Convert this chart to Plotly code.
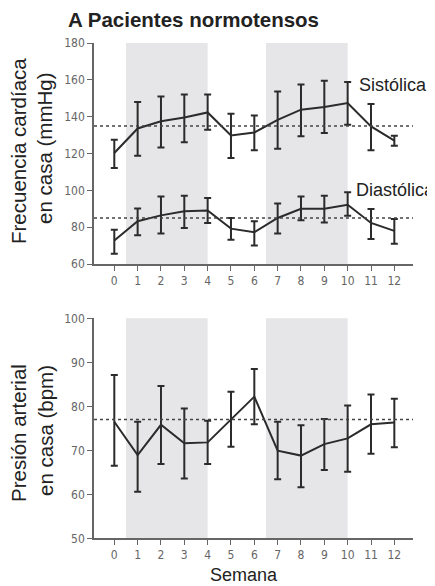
import plotly.graph_objects as go

weeks = list(range(13))
week_labels = [str(w) for w in weeks]

sys_mean = [120.3, 133.6, 137.5, 139.5, 142.3, 129.8, 131.4, 138.3, 143.8, 145.3, 147.4, 134.7, 127.0]
sys_upper = [127.5, 148.0, 151.0, 152.1, 152.1, 141.6, 140.7, 153.7, 157.4, 159.5, 158.8, 146.9, 129.7]
sys_lower = [112.1, 118.8, 123.2, 126.1, 132.9, 117.6, 121.7, 122.6, 129.3, 131.1, 135.6, 121.7, 124.2]

dia_mean = [72.8, 83.2, 86.4, 88.6, 89.1, 79.2, 77.2, 85.0, 90.0, 90.0, 92.2, 82.3, 78.0]
dia_upper = [78.6, 90.2, 96.7, 97.1, 95.8, 85.0, 83.2, 92.8, 96.7, 97.1, 98.9, 89.9, 84.4]
dia_lower = [65.6, 75.6, 76.5, 79.5, 82.3, 73.2, 70.0, 76.5, 83.7, 82.6, 86.2, 73.6, 71.0]

hr_mean = [76.5, 68.9, 75.8, 71.6, 71.8, 77.0, 82.2, 69.9, 68.8, 71.4, 72.7, 75.9, 76.3]
hr_upper = [87.1, 76.5, 84.6, 79.5, 76.7, 83.3, 88.5, 76.5, 75.7, 77.1, 80.2, 82.7, 81.7]
hr_lower = [66.5, 60.6, 66.9, 63.6, 66.9, 70.8, 75.9, 63.4, 61.6, 65.5, 65.1, 69.2, 70.7]

sys_ref = 135
dia_ref = 85
hr_ref = 77

shade_periods = [(0.5, 4.0), (6.5, 10.0)]

LINE = "#2b2b2b"
AXIS = "#666666"
TICKFONT = dict(family="DejaVu Sans Condensed, Liberation Sans Narrow, Arial", size=12, color="#666666")
LABELFONT = "Liberation Sans, Arial, Helvetica"

# page body has an 8px margin: figure placed at (8, 8), sized to fill the 435x586 window
OFF = 8
W, H = 435 - OFF, 586 - OFF


def px(x):
    return (x - OFF) / W


def py(y):
    return 1 - (y - OFF) / H


def trace(y, up, lo, xa, ya):
    return go.Scatter(
        x=weeks, y=y, mode="lines", xaxis=xa, yaxis=ya,
        line=dict(color=LINE, width=2),
        error_y=dict(type="data", symmetric=False,
                     array=[u - m for u, m in zip(up, y)],
                     arrayminus=[m - l for m, l in zip(y, lo)],
                     color=LINE, thickness=2, width=3.5),
        showlegend=False, hoverinfo="skip",
    )


fig = go.Figure()
fig.add_trace(trace(sys_mean, sys_upper, sys_lower, "x", "y"))
fig.add_trace(trace(dia_mean, dia_upper, dia_lower, "x", "y"))
fig.add_trace(trace(hr_mean, hr_upper, hr_lower, "x2", "y2"))

shapes = []
for xr, yr in (("x", "y"), ("x2", "y2")):
    for a, b in shade_periods:
        shapes.append(dict(type="rect", xref=xr, yref=yr + " domain", x0=a, x1=b, y0=0, y1=1,
                           fillcolor="#e6e6e8", line=dict(width=0), layer="below"))
for xr, yr, v in (("x", "y", sys_ref), ("x", "y", dia_ref), ("x2", "y2", hr_ref)):
    shapes.append(dict(type="line", xref=xr + " domain", yref=yr, x0=0, x1=1, y0=v, y1=v,
                       line=dict(color="#444444", width=1.5, dash="dot"), layer="above"))

xdom = [px(94), px(413)]
axis_common = dict(showline=True, linecolor=AXIS, linewidth=1.5, ticks="outside",
                   ticklen=5, tickwidth=1.2, tickcolor=AXIS, tickfont=TICKFONT,
                   showgrid=False, zeroline=False, automargin=False)

fig.update_layout(
    width=W, height=H,
    margin=dict(l=0, r=0, t=0, b=0, autoexpand=False),
    paper_bgcolor="white", plot_bgcolor="white",
    shapes=shapes,
    xaxis=dict(domain=xdom, range=[-0.87, 12.8], tickvals=weeks, ticktext=week_labels,
               anchor="y", **axis_common),
    yaxis=dict(domain=[py(264), py(43)], range=[60, 180], tickvals=[60, 80, 100, 120, 140, 160, 180],
               anchor="x", **axis_common),
    xaxis2=dict(domain=xdom, range=[-0.87, 12.8], tickvals=weeks, ticktext=week_labels,
                anchor="y2", **axis_common),
    yaxis2=dict(domain=[py(538.3), py(318.3)], range=[50, 100], tickvals=[50, 60, 70, 80, 90, 100],
                anchor="x2", **axis_common),
)

ann = []
ann.append(dict(text="<b>A Pacientes normotensos</b>", x=px(66), y=py(19.5), xref="paper", yref="paper",
                xanchor="left", yanchor="middle", showarrow=False,
                font=dict(family=LABELFONT, size=20.5, color="#222222")))
ann.append(dict(text="Sistólica", x=px(357), y=py(85), xref="paper", yref="paper",
                xanchor="left", yanchor="middle", showarrow=False,
                font=dict(family=LABELFONT, size=18, color="#222222")))
ann.append(dict(text="Diastólica", x=px(354), y=py(190), xref="paper", yref="paper",
                xanchor="left", yanchor="middle", showarrow=False,
                font=dict(family=LABELFONT, size=18, color="#222222")))
for txt, xc, yc in (("Frecuencia cardíaca", 18, 151), ("en casa (mmHg)", 45, 148),
                    ("Presión arterial", 18, 433), ("en casa (bpm)", 45, 431)):
    ann.append(dict(text=txt, x=px(xc), y=py(yc), xref="paper", yref="paper",
                    xanchor="center", yanchor="middle", textangle=-90, showarrow=False,
                    font=dict(family=LABELFONT, size=20.5, color="#222222")))
ann.append(dict(text="Semana", x=px(244), y=py(575), xref="paper", yref="paper",
                xanchor="center", yanchor="middle", showarrow=False,
                font=dict(family=LABELFONT, size=18, color="#222222")))
fig.update_layout(annotations=ann)

fig.write_html("out.html")
